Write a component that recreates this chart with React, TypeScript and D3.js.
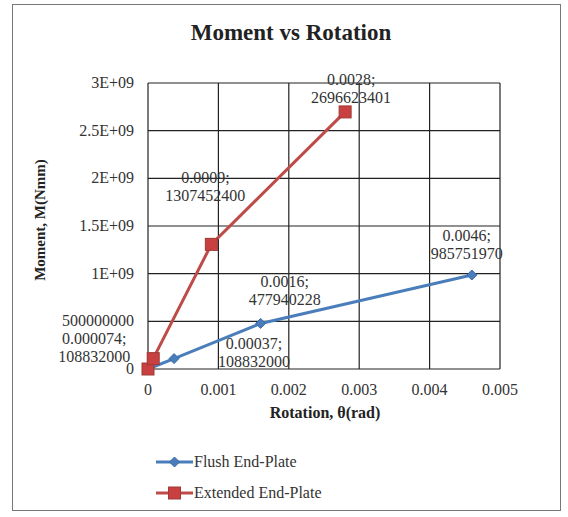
import * as d3 from 'd3'

const xTicks = [0, 0.001, 0.002, 0.003, 0.004, 0.005]
const yTicks = [0, 500000000, 1000000000, 1500000000, 2000000000, 2500000000, 3000000000]
const yTickLabels = ['0', '500000000', '1E+09', '1.5E+09', '2E+09', '2.5E+09', '3E+09']

const flushX = [0, 0.00037, 0.0016, 0.0046]
const flushY = [0, 108832000, 477940228, 985751970]
const extX = [0, 0.000074, 0.0009, 0.0028]
const extY = [0, 108832000, 1307452400, 2696623401]

// data label text per point, and offset [dx, dy] of the first line from the point
const flushLabels = [null, ['0.00037;', '108832000'], ['0.0016;', '477940228'], ['0.0046;', '985751970']]
const flushLabelOff = [null, [80, -10], [24, -36], [-5, -34]]
const extLabels = [null, ['0.000074;', '108832000'], ['0.0009;', '1307452400'], ['0.0028;', '2696623401']]
const extLabelOff = [null, [-59, -15], [-6, -61], [6, -27]]

const plot = { top: 83, left: 148, right: 500, bottom: 369 }
const font = "'Liberation Serif', 'Times New Roman', serif"
const blue = '#4A7EBB'
const red = '#BE4B48'

export default function App() {
  const x = d3.scaleLinear().domain([0, 0.005]).range([plot.left, plot.right])
  const y = d3.scaleLinear().domain([0, 3e9]).range([plot.bottom, plot.top])
  const line = d3.line<number>()

  const flushPts = flushX.map((v, i) => [x(v), y(flushY[i])] as [number, number])
  const extPts = extX.map((v, i) => [x(v), y(extY[i])] as [number, number])

  const diamond = (cx: number, cy: number, r = 5) =>
    `M${cx},${cy - r}L${cx + r},${cy}L${cx},${cy + r}L${cx - r},${cy}Z`

  const labels = (
    pts: [number, number][],
    texts: (string[] | null)[],
    offs: (number[] | null)[]
  ) =>
    pts.map((p, i) => {
      const t = texts[i]
      const o = offs[i]
      if (!t || !o) return null
      return (
        <text key={i} x={p[0] + o[0]} y={p[1] + o[1]} textAnchor="middle" fontSize={16} fill="#333">
          <tspan x={p[0] + o[0]}>{t[0]}</tspan>
          <tspan x={p[0] + o[0]} dy={18}>{t[1]}</tspan>
        </text>
      )
    })

  return (
    <svg width={568} height={517} style={{ position: 'absolute', left: 0, top: 0, fontFamily: font }}>
      <rect x={0} y={0} width={568} height={517} fill="#fff" />
      <rect x={12.5} y={4.5} width={548} height={506} fill="#fff" stroke="#777" strokeWidth={1} />
      <text x={291} y={40} textAnchor="middle" fontSize={23} fontWeight="bold" fill="#222">
        Moment vs Rotation
      </text>

      {/* grid */}
      {xTicks.map((t) => (
        <line key={'gx' + t} x1={x(t)} x2={x(t)} y1={plot.top} y2={plot.bottom} stroke="#222" strokeWidth={1.2} />
      ))}
      {yTicks.map((t) => (
        <line key={'gy' + t} x1={plot.left} x2={plot.right} y1={y(t)} y2={y(t)} stroke="#222" strokeWidth={1.2} />
      ))}

      {/* tick labels */}
      {yTicks.map((t, i) => (
        <text key={'ty' + t} x={plot.left - 14} y={y(t) + 5} textAnchor="end" fontSize={16} fill="#333">
          {yTickLabels[i]}
        </text>
      ))}
      {xTicks.map((t) => (
        <text key={'tx' + t} x={x(t)} y={plot.bottom + 26} textAnchor="middle" fontSize={16} fill="#333">
          {d3.format('')(t)}
        </text>
      ))}

      <text x={325} y={418} textAnchor="middle" fontSize={16} fontWeight="bold" fill="#222">
        Rotation, θ(rad)
      </text>
      <text
        transform="translate(45, 220) rotate(-90)"
        textAnchor="middle"
        fontSize={15}
        fontWeight="bold"
        fill="#222"
      >
        Moment, M(Nmm)
      </text>

      {/* series */}
      <path d={line(flushPts) ?? ''} fill="none" stroke={blue} strokeWidth={3} />
      <path d={line(extPts) ?? ''} fill="none" stroke={red} strokeWidth={3} />
      {flushPts.map((p, i) => (
        <path key={'fm' + i} d={diamond(p[0], p[1])} fill={blue} stroke="#3a6aa5" />
      ))}
      {extPts.map((p, i) => (
        <rect key={'em' + i} x={p[0] - 6} y={p[1] - 6} width={12} height={12} fill="#C8403F" stroke="#9e3a37" />
      ))}

      {labels(flushPts, flushLabels, flushLabelOff)}
      {labels(extPts, extLabels, extLabelOff)}

      {/* legend */}
      <line x1={156} x2={193} y1={462} y2={462} stroke={blue} strokeWidth={3} />
      <path d={diamond(174.5, 462)} fill={blue} stroke="#3a6aa5" />
      <text x={194} y={467} fontSize={16} fill="#333">Flush End-Plate</text>
      <line x1={156} x2={193} y1={493} y2={493} stroke={red} strokeWidth={3} />
      <rect x={168.5} y={487} width={12} height={12} fill="#C8403F" stroke="#9e3a37" />
      <text x={194} y={498} fontSize={16} fill="#333">Extended End-Plate</text>
    </svg>
  )
}
